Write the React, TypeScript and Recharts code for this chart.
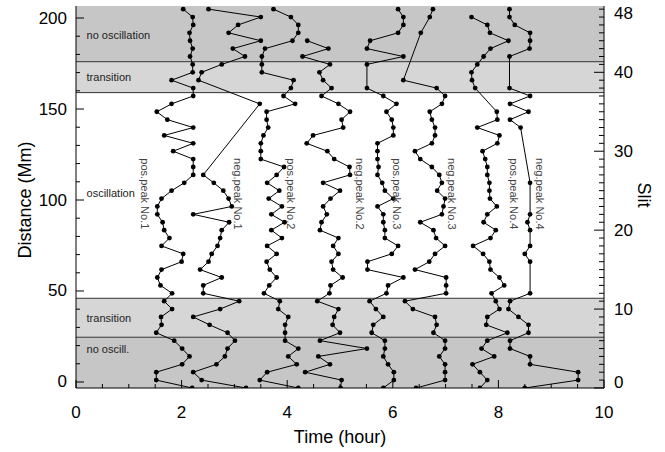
import React from "react";
import {
  ComposedChart,
  Scatter,
  XAxis,
  YAxis,
  ReferenceArea,
  ReferenceLine,
  ReferenceDot,
} from "recharts";

// time (hour) of each peak, indexed by slit number 0..48 (null = no point)
const posPeak1 = [2.20, 1.52, 1.52, 2.01, 2.15, 2.01, 1.86, 1.52, 1.62, 1.61, 1.82, 1.67, 1.82, 1.60, 1.54, 1.62, 2.00, 2.03, 1.62, 1.77, 1.67, 1.64, 1.54, 1.54, 1.62, 1.81, 2.05, 2.22, 2.22, 2.22, 1.84, 2.22, 1.67, 2.22, 1.73, 1.53, 1.81, 2.22, 2.22, 1.81, 2.21, 2.21, 2.16, 2.21, 2.16, 2.15, 2.22, 2.21, 2.03];
const negPeak1 = [3.22, 2.38, 2.22, 2.66, 2.82, 2.87, 3.01, 2.87, 2.53, 2.22, 2.73, 3.09, 2.41, 2.41, 2.76, 2.35, 2.51, 2.57, 2.68, 2.73, 2.76, 2.90, 2.22, 2.95, 2.89, 2.79, 2.61, 2.41, null, null, null, null, null, null, null, null, 3.48, null, null, 2.32, 2.38, 2.76, 3.20, 2.97, 3.50, 2.89, 3.07, 3.50, 2.51];
const posPeak2 = [4.21, 3.48, 3.62, 4.18, 4.02, 4.21, 3.96, 3.96, 3.96, 4.02, 3.83, 3.86, 3.56, 3.66, 3.80, 3.67, 3.61, 3.80, 3.62, 3.90, 3.70, 3.95, 3.70, 3.90, 3.65, 3.85, 3.62, 3.80, 3.94, 3.50, 3.50, 3.50, 3.55, 3.64, 3.61, 3.61, 4.15, 3.93, 4.07, 4.12, 3.52, 3.52, 3.52, 3.58, 4.10, 4.21, 4.21, 4.07, 3.74];
const negPeak2 = [5.01, 5.03, 4.34, 4.81, 4.59, 5.51, 4.62, 5.00, 4.86, 4.89, 4.97, 4.57, 4.80, 4.82, 5.05, 4.87, 4.84, 4.97, 4.87, 4.97, 4.62, 4.65, 4.75, 4.68, 4.82, 5.00, 4.68, 5.19, 5.18, 4.89, 4.76, 4.37, 4.49, 5.06, 5.03, 5.19, 4.97, 4.65, 4.84, 4.68, 4.61, 4.81, 4.29, 4.78, 4.38, null, null, null, null];
const posPeak3 = [5.82, 6.02, 6.02, 5.91, 5.82, 5.85, 5.85, 5.60, 5.63, 5.82, 5.68, 5.56, 5.88, 5.91, 6.20, 5.52, 5.52, 5.98, 6.10, 5.85, 5.85, 5.82, 5.82, 5.71, 6.01, 5.85, 5.80, 5.71, 5.73, 5.71, 5.71, 5.71, 6.01, 6.01, 5.98, 5.88, 6.07, 5.82, 5.51, null, null, 5.51, 6.20, 5.51, 5.57, 6.10, 6.20, 6.20, 6.10];
const negPeak3 = [6.44, 6.99, 6.99, 6.99, 6.88, 6.99, 6.99, 6.77, 6.83, 6.80, 6.38, 6.23, 7.01, 7.01, 7.01, 6.42, 6.69, 6.80, 6.99, 6.82, 6.77, 6.52, 6.93, 6.96, 6.99, 6.84, 6.93, 6.88, 6.74, 6.52, 6.42, 6.74, 6.80, 6.80, 6.74, 6.70, 6.93, 6.99, 6.83, 6.20, null, null, null, null, null, 6.53, null, 6.70, 6.76];
const posPeak4 = [7.65, 7.79, 7.65, 7.51, 7.92, 7.68, 7.79, 8.17, 7.77, 7.79, 8.02, 7.95, 7.87, 8.11, 8.02, 7.85, 7.83, 7.71, 7.52, 7.85, 7.95, 7.72, 7.79, 7.97, 7.84, 7.83, 7.83, 7.79, 7.79, 7.75, 7.70, 7.98, 8.02, 7.60, 7.98, 7.97, null, null, 7.56, 7.50, 7.49, 7.60, 7.72, 7.85, 8.19, 7.84, 7.79, 7.49, null];
const negPeak4 = [8.50, 9.51, 9.51, 8.60, 8.60, 8.22, 8.22, 8.57, 8.57, 8.38, 8.19, 8.22, 8.60, null, null, null, 8.60, 8.50, 8.60, null, 8.60, 8.55, 8.60, null, null, null, 8.60, null, null, null, null, null, null, 8.42, 8.22, 8.57, 8.22, 8.60, 8.21, null, null, null, 8.21, 8.59, 8.60, 8.60, 8.31, 8.21, 8.21];

const series = [posPeak1, negPeak1, posPeak2, negPeak2, posPeak3, negPeak3, posPeak4, negPeak4];

// labels next to each track: [text, time, slit]
const peakLabels: [string, number, number][] = [
  ["pos.peak No.1", 1.31, 24.6],
  ["neg.peak No.1", 3.07, 24.6],
  ["pos.peak No.2", 4.07, 24.6],
  ["neg.peak No.2", 5.38, 24.6],
  ["pos.peak No.3", 6.08, 24.6],
  ["neg.peak No.3", 7.12, 24.6],
  ["pos.peak No.4", 8.3, 24.6],
  ["neg.peak No.4", 8.79, 24.6],
];

// regions along the distance axis (Mm)
const bands = [
  { from: -3.3, to: 24.6, fill: "#c6c6c6" },
  { from: 24.6, to: 46, fill: "#d6d6d6" },
  { from: 159, to: 176, fill: "#d6d6d6" },
  { from: 176, to: 206.6, fill: "#c6c6c6" },
];
const bandEdges = [24.6, 46, 159, 176];
const bandLabels: [string, number][] = [
  ["no oscillation", 190.7],
  ["transition", 167.6],
  ["oscillation", 103.8],
  ["transition", 35.2],
  ["no oscill.", 18.1],
];

const timeTicks = [0, 0.5, 1, 1.5, 2, 2.5, 3, 3.5, 4, 4.5, 5, 5.5, 6, 6.5, 7, 7.5, 8, 8.5, 9, 9.5, 10];
const distTicks = [0, 10, 20, 30, 40, 50, 60, 70, 80, 90, 100, 110, 120, 130, 140, 150, 160, 170, 180, 190, 200];
const slitTicks = [0, 1, 2, 3, 4, 5, 6, 7, 8, 9, 10, 11, 12, 13, 14, 15, 16, 17, 18, 19, 20, 21, 22, 23, 24, 25, 26, 27, 28, 29, 30, 31, 32, 33, 34, 35, 36, 37, 38, 39, 40, 41, 42, 43, 44, 45, 46, 47, 48];
const slitLabels = [0, 10, 20, 30, 40, 48];

const FONT = "'Liberation Sans', Arial, Helvetica, sans-serif";

const BottomTick = ({ x, y, payload }: any) => {
  const v = payload.value;
  const major = v % 2 === 0;
  return (
    <g>
      <line x1={x} x2={x} y1={y} y2={y - (major ? 8 : 4)} stroke="#000" />
      {major && (
        <text x={x} y={y + 24} textAnchor="middle" dominantBaseline="central" fontSize={17} fontFamily={FONT} fill="#000">
          {v}
        </text>
      )}
    </g>
  );
};

const TopTick = ({ x, y, payload }: any) => {
  const major = payload.value % 2 === 0;
  return <line x1={x} x2={x} y1={y} y2={y + (major ? 8 : 4)} stroke="#000" />;
};

const LeftTick = ({ x, y, payload }: any) => {
  const v = payload.value;
  const major = v % 50 === 0;
  return (
    <g>
      <line x1={x} x2={x + (major ? 8 : 4)} y1={y} y2={y} stroke="#000" />
      {major && (
        <text x={x - 9} y={y} textAnchor="end" dominantBaseline="central" fontSize={17} fontFamily={FONT} fill="#000">
          {v}
        </text>
      )}
    </g>
  );
};

const RightTick = ({ x, y, payload }: any) => {
  const v = payload.value;
  const major = v % 10 === 0;
  const labelled = slitLabels.includes(v);
  return (
    <g>
      <line x1={x} x2={x - (major ? 10 : 5)} y1={y} y2={y} stroke="#000" />
      {labelled && (
        <text x={x + 10} y={v === 0 ? y - 6 : y + (v === 48 ? 4 : 0)} textAnchor="start" dominantBaseline="central" fontSize={17} fontFamily={FONT} fill="#000">
          {v}
        </text>
      )}
    </g>
  );
};

const Dot = (p: any) => <circle cx={p.cx} cy={p.cy} r={2.4} fill="#000" />;

const toPoints = (times: (number | null)[]) =>
  times.map((t, s) => (t == null ? null : { t, s })).filter(Boolean);

export default function App() {
  return (
    <div style={{ position: "absolute", left: 0, top: 0, width: 665, height: 452, background: "#fff" }}>
      <ComposedChart width={665} height={452} margin={{ top: 6, right: 21, bottom: 24, left: 16 }}>
        <XAxis
          dataKey="t"
          type="number"
          domain={[0, 10]}
          ticks={timeTicks}
          interval={0}
          height={40}
          tickSize={0}
          tickMargin={0}
          tickLine={false}
          axisLine={{ stroke: "#000" }}
          tick={(p: any) => <BottomTick {...p} />}
          allowDataOverflow
        />
        <XAxis
          xAxisId="top"
          orientation="top"
          dataKey="t"
          type="number"
          domain={[0, 10]}
          ticks={timeTicks}
          interval={0}
          height={0}
          tickSize={0}
          tickMargin={0}
          tickLine={false}
          axisLine={{ stroke: "#000" }}
          tick={(p: any) => <TopTick {...p} />}
          allowDataOverflow
        />
        <YAxis
          yAxisId="mm"
          type="number"
          domain={[-3.3, 206.6]}
          ticks={distTicks}
          interval={0}
          width={60}
          tickSize={0}
          tickMargin={0}
          tickLine={false}
          axisLine={{ stroke: "#000" }}
          tick={(p: any) => <LeftTick {...p} />}
          allowDataOverflow
        />
        <YAxis
          yAxisId="slit"
          orientation="right"
          dataKey="s"
          type="number"
          domain={[0, 48.4]}
          ticks={slitTicks}
          interval={0}
          width={40}
          tickSize={0}
          tickMargin={0}
          tickLine={false}
          axisLine={{ stroke: "#000" }}
          tick={(p: any) => <RightTick {...p} />}
          allowDataOverflow
        />
        {bands.map((b, i) => (
          <ReferenceArea key={"b" + i} yAxisId="mm" y1={b.from} y2={b.to} fill={b.fill} fillOpacity={1} stroke="none" />
        ))}
        {bandEdges.map((e, i) => (
          <ReferenceLine key={"e" + i} yAxisId="mm" y={e} stroke="#333" strokeWidth={1} />
        ))}
        {bandLabels.map(([txt, d], i) => (
          <ReferenceDot
            key={"bl" + i}
            yAxisId="mm"
            x={0.2}
            y={d}
            r={0}
            shape={(p: any) => (
              <text x={p.cx} y={p.cy} dominantBaseline="central" fontSize={11} fontFamily={FONT} fill="#222">
                {txt}
              </text>
            )}
          />
        ))}
        {series.map((times, i) => (
          <Scatter
            key={"s" + i}
            yAxisId="slit"
            data={toPoints(times)}
            line={{ stroke: "#000", strokeWidth: 1 }}
            shape={Dot}
            isAnimationActive={false}
          />
        ))}
        {peakLabels.map(([txt, t, s], i) => (
          <ReferenceDot
            key={"pl" + i}
            yAxisId="slit"
            x={t}
            y={s}
            r={0}
            shape={(p: any) => (
              <text
                x={p.cx}
                y={p.cy}
                transform={`rotate(90 ${p.cx} ${p.cy})`}
                textAnchor="middle"
                dominantBaseline="central"
                fontSize={11}
                fontFamily={FONT}
                fill="#444"
              >
                {txt}
              </text>
            )}
          />
        ))}
      </ComposedChart>
      <div style={{ position: "absolute", left: 25, top: 200, transform: "translate(-50%, -50%) rotate(-90deg)", fontFamily: FONT, fontSize: 18, whiteSpace: "nowrap" }}>
        Distance (Mm)
      </div>
      <div style={{ position: "absolute", left: 643, top: 195, transform: "translate(-50%, -50%) rotate(90deg)", fontFamily: FONT, fontSize: 18, whiteSpace: "nowrap" }}>
        Slit
      </div>
      <div style={{ position: "absolute", left: 340, top: 437, transform: "translate(-50%, -50%)", fontFamily: FONT, fontSize: 18, whiteSpace: "nowrap" }}>
        Time (hour)
      </div>
    </div>
  );
}
